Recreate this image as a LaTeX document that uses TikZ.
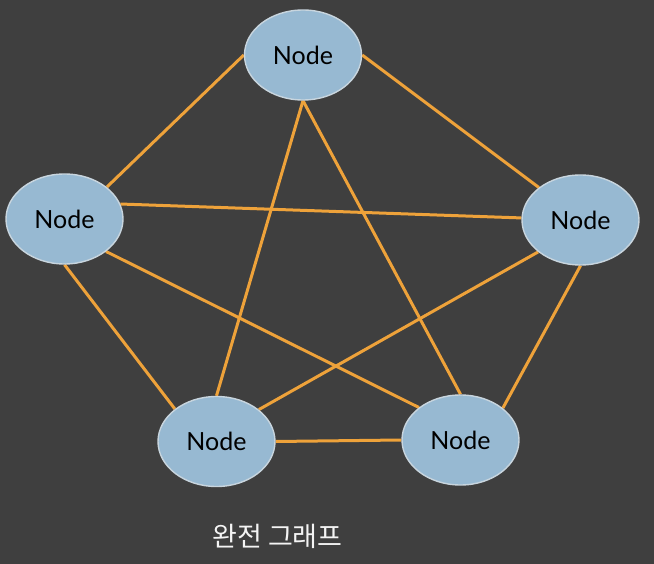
\documentclass[tikz,border=0pt]{standalone}
\usepackage{fontspec}
\newfontfamily\nodefont{Lato}
\newfontfamily\cjk{Noto Sans CJK KR}
\usetikzlibrary{shapes.geometric,backgrounds}
\definecolor{bgc}{HTML}{3F3F3F}
\definecolor{nodefill}{HTML}{97B9D2}
\definecolor{nodeline}{HTML}{C8D5DE}
\definecolor{edgec}{HTML}{EEA23A}
\definecolor{captc}{HTML}{F4F4F4}
\tikzset{
  gnode/.style={ellipse, fill=nodefill, draw=nodeline, line width=1.4pt,
    minimum width=117pt, minimum height=90pt, inner sep=0pt,
    font=\nodefont\fontsize{25}{28}\selectfont, text=black},
  gedge/.style={draw=edgec, line width=3pt},
}
\begin{document}
\begin{tikzpicture}[x=1pt,y=-1pt]
\useasboundingbox (0,0) rectangle (654,564);
\node[gnode] (T)  at (303,55)    {Node};
\node[gnode] (L)  at (64.5,219)  {Node};
\node[gnode] (R)  at (580.5,220) {Node};
\node[gnode] (BL) at (216.5,441.5) {Node};
\node[gnode] (BR) at (460.5,440) {Node};
\node[font=\cjk\fontsize{27}{30}\selectfont, text=captc] (cap) at (277.5,536) {완전 그래프};
\begin{scope}[on background layer]
  \fill[bgc] (0,0) rectangle (654,564);
  \draw[gedge] (T.west) -- (L.37.6);
  \draw[gedge] (T.east) -- (R.142.4);
  \draw[gedge] (T.south) -- (BL.north);
  \draw[gedge] (T.south) -- (BR.north);
  \draw[gedge] (L.15) -- (R.178);
  \draw[gedge] (L.south) -- (BL.142.4);
  \draw[gedge] (L.322.4) -- (BR.142.4);
  \draw[gedge] (R.217.6) -- (BL.37.6);
  \draw[gedge] (R.south) -- (BR.37.6);
  \draw[gedge] (BL.east) -- (BR.west);
\end{scope}
\end{tikzpicture}
\end{document}
